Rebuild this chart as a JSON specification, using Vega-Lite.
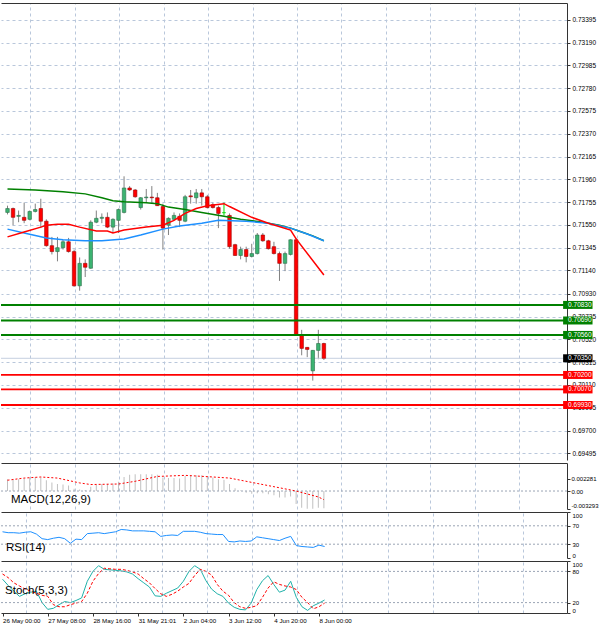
{
  "$schema": "https://vega.github.io/schema/vega-lite/v6.json",
  "padding": {"left": 0, "top": 3, "right": 0, "bottom": 0},
  "background": "white",
  "spacing": 3,
  "bounds": "flush",
  "config": {
    "view": {"stroke": null},
    "font": "Liberation Sans",
    "axis": {
      "labelFont": "Liberation Sans", "labelFontSize": 6.5, "labelColor": "#000000",
      "tickColor": "#333333", "domainColor": "#333333", "tickSize": 3, "labelPadding": 2,
      "gridColor": "#b9c7db", "gridDash": [3, 3], "gridWidth": 1, "labelOverlap": false
    }
  },
  "datasets": {
    "candles": [
      {"i":0,"o":0.71662,"h":0.71723,"l":0.71644,"c":0.71697},
      {"i":1,"o":0.71697,"h":0.71706,"l":0.71547,"c":0.71618},
      {"i":2,"o":0.71627,"h":0.71679,"l":0.71574,"c":0.71635},
      {"i":3,"o":0.71618,"h":0.71750,"l":0.71565,"c":0.71591},
      {"i":4,"o":0.71600,"h":0.71679,"l":0.71591,"c":0.71671},
      {"i":5,"o":0.71671,"h":0.71741,"l":0.71662,"c":0.71688},
      {"i":6,"o":0.71697,"h":0.71785,"l":0.71521,"c":0.71583},
      {"i":7,"o":0.71583,"h":0.71600,"l":0.71354,"c":0.71363},
      {"i":8,"o":0.71363,"h":0.71442,"l":0.71284,"c":0.71310},
      {"i":9,"o":0.71310,"h":0.71442,"l":0.71222,"c":0.71345},
      {"i":10,"o":0.71345,"h":0.71416,"l":0.71328,"c":0.71398},
      {"i":11,"o":0.71398,"h":0.71433,"l":0.71301,"c":0.71310},
      {"i":12,"o":0.71310,"h":0.71328,"l":0.70993,"c":0.71002},
      {"i":13,"o":0.71002,"h":0.71257,"l":0.70958,"c":0.71204},
      {"i":14,"o":0.71204,"h":0.71240,"l":0.71081,"c":0.71169},
      {"i":15,"o":0.71160,"h":0.71591,"l":0.71155,"c":0.71574},
      {"i":16,"o":0.71574,"h":0.71679,"l":0.71565,"c":0.71609},
      {"i":17,"o":0.71609,"h":0.71653,"l":0.71565,"c":0.71618},
      {"i":18,"o":0.71618,"h":0.71662,"l":0.71521,"c":0.71530},
      {"i":19,"o":0.71530,"h":0.71609,"l":0.71486,"c":0.71600},
      {"i":20,"o":0.71591,"h":0.71697,"l":0.71477,"c":0.71688},
      {"i":21,"o":0.71662,"h":0.71987,"l":0.71653,"c":0.71882},
      {"i":22,"o":0.71882,"h":0.71899,"l":0.71855,"c":0.71864},
      {"i":23,"o":0.71864,"h":0.71873,"l":0.71794,"c":0.71803},
      {"i":24,"o":0.71706,"h":0.71800,"l":0.71688,"c":0.71794},
      {"i":25,"o":0.71794,"h":0.71873,"l":0.71750,"c":0.71800},
      {"i":26,"o":0.71800,"h":0.71899,"l":0.71750,"c":0.71794},
      {"i":27,"o":0.71794,"h":0.71838,"l":0.71720,"c":0.71723},
      {"i":28,"o":0.71715,"h":0.71741,"l":0.71328,"c":0.71521},
      {"i":29,"o":0.71547,"h":0.71618,"l":0.71459,"c":0.71609},
      {"i":30,"o":0.71600,"h":0.71662,"l":0.71591,"c":0.71635},
      {"i":31,"o":0.71627,"h":0.71653,"l":0.71530,"c":0.71591},
      {"i":32,"o":0.71583,"h":0.71820,"l":0.71574,"c":0.71803},
      {"i":33,"o":0.71811,"h":0.71864,"l":0.71741,"c":0.71803},
      {"i":34,"o":0.71794,"h":0.71873,"l":0.71741,"c":0.71838},
      {"i":35,"o":0.71838,"h":0.71873,"l":0.71723,"c":0.71803},
      {"i":36,"o":0.71803,"h":0.71820,"l":0.71697,"c":0.71706},
      {"i":37,"o":0.71732,"h":0.71750,"l":0.71697,"c":0.71706},
      {"i":38,"o":0.71706,"h":0.71723,"l":0.71521,"c":0.71653},
      {"i":39,"o":0.71660,"h":0.71750,"l":0.71635,"c":0.71660},
      {"i":40,"o":0.71635,"h":0.71653,"l":0.71336,"c":0.71354},
      {"i":41,"o":0.71372,"h":0.71380,"l":0.71270,"c":0.71275},
      {"i":42,"o":0.71275,"h":0.71354,"l":0.71240,"c":0.71328},
      {"i":43,"o":0.71328,"h":0.71354,"l":0.71213,"c":0.71266},
      {"i":44,"o":0.71266,"h":0.71380,"l":0.71257,"c":0.71292},
      {"i":45,"o":0.71292,"h":0.71477,"l":0.71284,"c":0.71459},
      {"i":46,"o":0.71459,"h":0.71477,"l":0.71398,"c":0.71407},
      {"i":47,"o":0.71407,"h":0.71416,"l":0.71328,"c":0.71336},
      {"i":48,"o":0.71354,"h":0.71398,"l":0.71284,"c":0.71292},
      {"i":49,"o":0.71292,"h":0.71310,"l":0.71046,"c":0.71204},
      {"i":50,"o":0.71204,"h":0.71310,"l":0.71134,"c":0.71292},
      {"i":51,"o":0.71284,"h":0.71420,"l":0.71275,"c":0.71416},
      {"i":52,"o":0.71416,"h":0.71433,"l":0.70555,"c":0.70562},
      {"i":53,"o":0.70562,"h":0.70606,"l":0.70377,"c":0.70439},
      {"i":54,"o":0.70448,"h":0.70452,"l":0.70360,"c":0.70430},
      {"i":55,"o":0.70237,"h":0.70425,"l":0.70149,"c":0.70421},
      {"i":56,"o":0.70421,"h":0.70606,"l":0.70342,"c":0.70483},
      {"i":57,"o":0.70483,"h":0.70490,"l":0.70335,"c":0.70350}
    ],
    "ma": [
      {"s":"slow","i":0,"v":0.71873},{"s":"slow","i":5,"v":0.71864},{"s":"slow","i":10,"v":0.71847},{"s":"slow","i":14,"v":0.71829},
      {"s":"slow","i":17,"v":0.71794},{"s":"slow","i":19,"v":0.71767},{"s":"slow","i":21,"v":0.71759},{"s":"slow","i":25,"v":0.71750},
      {"s":"slow","i":27,"v":0.71741},{"s":"slow","i":29,"v":0.71710},{"s":"slow","i":32,"v":0.71688},{"s":"slow","i":35,"v":0.71662},
      {"s":"slow","i":39,"v":0.71627},{"s":"slow","i":42,"v":0.71600},{"s":"slow","i":46,"v":0.71574},{"s":"slow","i":49,"v":0.71547},
      {"s":"slow","i":51,"v":0.71521},{"s":"slow","i":53,"v":0.71486},{"s":"slow","i":55,"v":0.71451},{"s":"slow","i":57,"v":0.71407},
      {"s":"mid","i":0,"v":0.71512},{"s":"mid","i":3,"v":0.71477},{"s":"mid","i":7,"v":0.71433},{"s":"mid","i":10,"v":0.71416},
      {"s":"mid","i":14,"v":0.71407},{"s":"mid","i":17,"v":0.71407},{"s":"mid","i":21,"v":0.71424},{"s":"mid","i":24,"v":0.71459},
      {"s":"mid","i":28,"v":0.71512},{"s":"mid","i":31,"v":0.71539},{"s":"mid","i":35,"v":0.71565},{"s":"mid","i":38,"v":0.71591},
      {"s":"mid","i":43,"v":0.71583},{"s":"mid","i":47,"v":0.71565},{"s":"mid","i":51,"v":0.71521},{"s":"mid","i":54,"v":0.71468},
      {"s":"mid","i":57,"v":0.71407},
      {"s":"fast","i":0,"v":0.71442},{"s":"fast","i":3,"v":0.71486},{"s":"fast","i":6,"v":0.71530},{"s":"fast","i":7,"v":0.71547},
      {"s":"fast","i":9,"v":0.71556},{"s":"fast","i":11,"v":0.71556},{"s":"fast","i":13,"v":0.71530},{"s":"fast","i":16,"v":0.71495},
      {"s":"fast","i":18,"v":0.71495},{"s":"fast","i":19,"v":0.71477},{"s":"fast","i":21,"v":0.71503},{"s":"fast","i":25,"v":0.71530},
      {"s":"fast","i":28,"v":0.71547},{"s":"fast","i":30,"v":0.71591},{"s":"fast","i":32,"v":0.71653},{"s":"fast","i":34,"v":0.71697},
      {"s":"fast","i":36,"v":0.71723},{"s":"fast","i":39,"v":0.71741},{"s":"fast","i":40,"v":0.71715},{"s":"fast","i":44,"v":0.71618},
      {"s":"fast","i":47,"v":0.71565},{"s":"fast","i":51,"v":0.71503},{"s":"fast","i":52,"v":0.71424},{"s":"fast","i":57,"v":0.71099}
    ],
    "levels": [
      {"v":0.70830,"kind":"res"},{"v":0.70690,"kind":"res"},{"v":0.70560,"kind":"res"},
      {"v":0.70200,"kind":"sup"},{"v":0.70070,"kind":"sup"},{"v":0.69930,"kind":"sup"},
      {"v":0.70350,"kind":"price"}
    ],
    "macd": [
      {"i":0,"m":0.0022},{"i":1,"m":0.0022},{"i":2,"m":0.0022},{"i":3,"m":0.0023},{"i":4,"m":0.0025},{"i":5,"m":0.0026},
      {"i":6,"m":0.0025},{"i":7,"m":0.0020},{"i":8,"m":0.0016},{"i":9,"m":0.0013},{"i":10,"m":0.0012},{"i":11,"m":0.0010},
      {"i":12,"m":0.0004},{"i":13,"m":0.0003},{"i":14,"m":0.0002},{"i":15,"m":0.0008},{"i":16,"m":0.0011},{"i":17,"m":0.0013},
      {"i":18,"m":0.0013},{"i":19,"m":0.0014},{"i":20,"m":0.0017},{"i":21,"m":0.0026},{"i":22,"m":0.0030},{"i":23,"m":0.0031},
      {"i":24,"m":0.0031},{"i":25,"m":0.0031},{"i":26,"m":0.0031},{"i":27,"m":0.0030},{"i":28,"m":0.0025},{"i":29,"m":0.0024},
      {"i":30,"m":0.0024},{"i":31,"m":0.0023},{"i":32,"m":0.0028},{"i":33,"m":0.0029},{"i":34,"m":0.0029},{"i":35,"m":0.0029},
      {"i":36,"m":0.0027},{"i":37,"m":0.0025},{"i":38,"m":0.0022},{"i":39,"m":0.0021},{"i":40,"m":0.0013},{"i":41,"m":0.0005},
      {"i":42,"m":0.0001},{"i":43,"m":-0.0003},{"i":44,"m":-0.0005},{"i":45,"m":-0.0004},{"i":46,"m":-0.0004},{"i":47,"m":-0.0006},
      {"i":48,"m":-0.0008},{"i":49,"m":-0.0012},{"i":50,"m":-0.0012},{"i":51,"m":-0.0010},{"i":52,"m":-0.0024},{"i":53,"m":-0.0031},
      {"i":54,"m":-0.0033},{"i":55,"m":-0.0033},{"i":56,"m":-0.0031},{"i":57,"m":-0.0032}
    ],
    "sig": [
      {"i":0,"s":0.0020},{"i":3,"s":0.0024},{"i":6,"s":0.0026},{"i":9,"s":0.0024},{"i":13,"s":0.0015},{"i":15,"s":0.0012},
      {"i":20,"s":0.0013},{"i":23,"s":0.0018},{"i":27,"s":0.0027},{"i":32,"s":0.0029},{"i":37,"s":0.0026},{"i":40,"s":0.0024},
      {"i":44,"s":0.0016},{"i":48,"s":0.0008},{"i":52,"s":0.0000},{"i":56,"s":-0.0011},{"i":57,"s":-0.0016}
    ],
    "rsi": [
      {"i":0,"r":57},{"i":1,"r":55},{"i":2,"r":55},{"i":3,"r":54},{"i":4,"r":56},{"i":5,"r":57},{"i":6,"r":52},{"i":7,"r":42},
      {"i":8,"r":40},{"i":9,"r":43},{"i":10,"r":45},{"i":11,"r":42},{"i":12,"r":32},{"i":13,"r":41},{"i":14,"r":40},{"i":15,"r":53},
      {"i":16,"r":54},{"i":17,"r":55},{"i":18,"r":53},{"i":19,"r":55},{"i":20,"r":57},{"i":21,"r":62},{"i":22,"r":61},{"i":23,"r":59},
      {"i":24,"r":59},{"i":25,"r":59},{"i":26,"r":58},{"i":27,"r":57},{"i":28,"r":47},{"i":29,"r":49},{"i":30,"r":50},{"i":31,"r":49},
      {"i":32,"r":58},{"i":33,"r":58},{"i":34,"r":58},{"i":35,"r":56},{"i":36,"r":53},{"i":37,"r":52},{"i":38,"r":51},{"i":39,"r":51},
      {"i":40,"r":36},{"i":41,"r":35},{"i":42,"r":37},{"i":43,"r":36},{"i":44,"r":37},{"i":45,"r":46},{"i":46,"r":44},{"i":47,"r":42},
      {"i":48,"r":40},{"i":49,"r":38},{"i":50,"r":43},{"i":51,"r":47},{"i":52,"r":27},{"i":53,"r":25},{"i":54,"r":24},{"i":55,"r":23},
      {"i":56,"r":28},{"i":57,"r":25}
    ],
    "stoch": [
      {"i":0,"k":65,"d":75},{"i":1,"k":53,"d":68},{"i":2,"k":42,"d":58},{"i":3,"k":32,"d":52},{"i":4,"k":37,"d":46},{"i":5,"k":40,"d":42},
      {"i":6,"k":42,"d":38},{"i":7,"k":20,"d":34},{"i":8,"k":7,"d":32},{"i":9,"k":9,"d":16},{"i":10,"k":16,"d":12},{"i":11,"k":22,"d":12},
      {"i":12,"k":20,"d":16},{"i":13,"k":24,"d":19},{"i":14,"k":29,"d":22},{"i":15,"k":61,"d":38},{"i":16,"k":80,"d":61},{"i":17,"k":91,"d":76},
      {"i":18,"k":84,"d":86},{"i":19,"k":83,"d":85},{"i":20,"k":82,"d":84},{"i":21,"k":81,"d":84},{"i":22,"k":79,"d":82},{"i":23,"k":75,"d":79},
      {"i":24,"k":66,"d":75},{"i":25,"k":58,"d":66},{"i":26,"k":50,"d":58},{"i":27,"k":33,"d":47},{"i":28,"k":32,"d":37},{"i":29,"k":38,"d":32},
      {"i":30,"k":43,"d":36},{"i":31,"k":48,"d":42},{"i":32,"k":61,"d":50},{"i":33,"k":80,"d":57},{"i":34,"k":91,"d":72},{"i":35,"k":84,"d":84},
      {"i":36,"k":62,"d":80},{"i":37,"k":46,"d":73},{"i":38,"k":37,"d":55},{"i":39,"k":32,"d":42},{"i":40,"k":19,"d":34},{"i":41,"k":11,"d":20},
      {"i":42,"k":7,"d":12},{"i":43,"k":6,"d":9},{"i":44,"k":19,"d":11},{"i":45,"k":45,"d":14},{"i":46,"k":62,"d":30},{"i":47,"k":72,"d":48},
      {"i":48,"k":55,"d":60},{"i":49,"k":40,"d":55},{"i":50,"k":44,"d":52},{"i":51,"k":61,"d":50},{"i":52,"k":30,"d":45},{"i":53,"k":12,"d":30},
      {"i":54,"k":5,"d":20},{"i":55,"k":14,"d":8},{"i":56,"k":19,"d":12},{"i":57,"k":25,"d":19}
    ]
  },
  "vconcat": [
    {
      "width": 566, "height": 457,
      "layer": [
        {
          "data": {"name": "candles"},
          "mark": {"type": "rule", "strokeWidth": 1},
          "encoding": {
            "x": {"field": "i", "type": "quantitative", "scale": {"domain": [-0.27, 99.9], "nice": false},
              "axis": {"orient": "top", "values": [4.14, 12.14, 20.14, 28.14, 36.14, 44.14, 52.14, 60.14, 68.14, 76.14, 84.14, 92.14], "tickCount": 40, "grid": true, "labels": false, "ticks": false, "domain": true, "title": null, "zindex": 0}},
            "y": {"field": "l", "type": "quantitative", "scale": {"domain": [0.6948, 0.73501], "nice": false, "zero": false},
              "axis": {"orient": "right", "values": [0.73395, 0.73190, 0.72985, 0.72780, 0.72575, 0.72370, 0.72165, 0.71960, 0.71755, 0.71550, 0.71345, 0.71140, 0.70930, 0.70725, 0.70520, 0.70315, 0.70110, 0.69905, 0.69700, 0.69495],
                "tickCount": 40, "labelExpr": "format(datum.value, '.5f')", "grid": true, "labelFlush": false, "labelOverlap": false, "labelBound": false, "title": null, "zindex": 0}},
            "y2": {"field": "h"},
            "color": {"condition": {"test": "datum.o == datum.c", "value": "#00dd00"}, "value": "#808080"}
          }
        },
        {
          "data": {"name": "levels"},
          "transform": [{"filter": "datum.kind == 'price'"}],
          "mark": {"type": "rule", "strokeWidth": 1, "color": "#c5cfe0"},
          "encoding": {
            "y": {"field": "v", "type": "quantitative", "scale": {"domain": [0.6948, 0.73501], "nice": false, "zero": false}, "axis": {"title": null}}
          }
        },
        {
          "data": {"name": "candles"},
          "mark": {"type": "bar", "strokeWidth": 0.6},
          "encoding": {
            "x": {"field": "i", "type": "quantitative", "scale": {"domain": [-0.27, 99.9], "nice": false}, "axis": {"title": null}},
            "y": {"field": "o", "type": "quantitative", "scale": {"domain": [0.6948, 0.73501], "nice": false, "zero": false}, "axis": {"title": null}},
            "y2": {"field": "c"},
            "size": {"value": 3.5},
            "fill": {"condition": [{"test": "datum.c > datum.o", "value": "#3cb371"}, {"test": "datum.c < datum.o", "value": "#ff0000"}], "value": "#00dd00"},
            "stroke": {"condition": [{"test": "datum.c > datum.o", "value": "#2b6e4a"}, {"test": "datum.c < datum.o", "value": "#9a0000"}], "value": "#00dd00"}
          }
        },
        {
          "data": {"name": "ma"},
          "transform": [{"filter": "datum.s == 'slow'"}],
          "mark": {"type": "line", "strokeWidth": 1.5, "color": "#008000"},
          "encoding": {
            "x": {"field": "i", "type": "quantitative", "scale": {"domain": [-0.27, 99.9], "nice": false}, "axis": {"title": null}},
            "y": {"field": "v", "type": "quantitative", "scale": {"domain": [0.6948, 0.73501], "nice": false, "zero": false}, "axis": {"title": null}}
          }
        },
        {
          "data": {"name": "ma"},
          "transform": [{"filter": "datum.s == 'mid'"}],
          "mark": {"type": "line", "strokeWidth": 1.5, "color": "#1e90ff"},
          "encoding": {
            "x": {"field": "i", "type": "quantitative", "scale": {"domain": [-0.27, 99.9], "nice": false}, "axis": {"title": null}},
            "y": {"field": "v", "type": "quantitative", "scale": {"domain": [0.6948, 0.73501], "nice": false, "zero": false}, "axis": {"title": null}}
          }
        },
        {
          "data": {"name": "ma"},
          "transform": [{"filter": "datum.s == 'fast'"}],
          "mark": {"type": "line", "strokeWidth": 1.5, "color": "#ff0000"},
          "encoding": {
            "x": {"field": "i", "type": "quantitative", "scale": {"domain": [-0.27, 99.9], "nice": false}, "axis": {"title": null}},
            "y": {"field": "v", "type": "quantitative", "scale": {"domain": [0.6948, 0.73501], "nice": false, "zero": false}, "axis": {"title": null}}
          }
        },
        {
          "data": {"name": "levels"},
          "transform": [{"filter": "datum.kind != 'price'"}],
          "mark": {"type": "rule"},
          "encoding": {
            "y": {"field": "v", "type": "quantitative", "scale": {"domain": [0.6948, 0.73501], "nice": false, "zero": false}, "axis": {"title": null}},
            "color": {"condition": {"test": "datum.kind == 'res'", "value": "#008000"}, "value": "#ff0000"},
            "strokeWidth": {"condition": {"test": "datum.kind == 'res'", "value": 2}, "value": 1.8}
          }
        },
        {
          "data": {"name": "levels"},
          "mark": {"type": "bar"},
          "encoding": {
            "x": {"datum": 100.1, "type": "quantitative", "scale": {"domain": [-0.27, 99.9], "nice": false}, "axis": {"title": null}},
            "x2": {"datum": 105.4},
            "y": {"field": "v", "type": "quantitative", "scale": {"domain": [0.6948, 0.73501], "nice": false, "zero": false}, "axis": {"title": null}},
            "size": {"value": 8},
            "color": {"condition": [{"test": "datum.kind == 'res'", "value": "#008000"}, {"test": "datum.kind == 'sup'", "value": "#ff0000"}], "value": "#000000"}
          }
        },
        {
          "data": {"name": "levels"},
          "mark": {"type": "text", "align": "left", "baseline": "middle", "fontSize": 6.5, "color": "#ffffff", "font": "Liberation Sans"},
          "encoding": {
            "x": {"datum": 101.0, "type": "quantitative", "scale": {"domain": [-0.27, 99.9], "nice": false}, "axis": {"title": null}},
            "y": {"field": "v", "type": "quantitative", "scale": {"domain": [0.6948, 0.73501], "nice": false, "zero": false}, "axis": {"title": null}},
            "text": {"field": "v", "type": "quantitative", "format": ".5f"}
          }
        }
      ]
    },
    {
      "width": 566, "height": 46,
      "layer": [
        {
          "data": {"name": "macd"},
          "mark": {"type": "bar", "color": "#c0c0c0"},
          "encoding": {
            "x": {"field": "i", "type": "quantitative", "scale": {"domain": [-0.27, 99.9], "nice": false},
              "axis": {"orient": "top", "values": [4.14, 12.14, 20.14, 28.14, 36.14, 44.14, 52.14, 60.14, 68.14, 76.14, 84.14, 92.14], "tickCount": 40, "grid": true, "labels": false, "ticks": false, "domain": true, "title": null}},
            "y": {"field": "m", "type": "quantitative", "scale": {"domain": [-0.00333, 0.00519], "nice": false, "zero": false},
              "axis": {"orient": "right", "values": [0.002281, 0, -0.003293], "tickCount": 40, "grid": false, "labelFlush": 3, "labelOverlap": false, "labelBound": false, "labelPadding": 1, "labelFontSize": 6, "title": null,
                "labelExpr": "datum.value > 0.001 ? '0.002281' : (datum.value < -0.001 ? '-0.003293' : '0.00')"}},
            "y2": {"datum": 0},
            "size": {"value": 1}
          }
        },
        {
          "data": {"values": [{"z": 0}]},
          "mark": {"type": "rule", "color": "#9aa4b4", "strokeDash": [2, 2], "strokeWidth": 1},
          "encoding": {
            "y": {"field": "z", "type": "quantitative", "scale": {"domain": [-0.00333, 0.00519], "nice": false, "zero": false}, "axis": {"title": null}}
          }
        },
        {
          "data": {"name": "sig"},
          "mark": {"type": "line", "color": "#ff0000", "strokeDash": [2, 2], "strokeWidth": 1},
          "encoding": {
            "x": {"field": "i", "type": "quantitative", "scale": {"domain": [-0.27, 99.9], "nice": false}, "axis": {"title": null}},
            "y": {"field": "s", "type": "quantitative", "scale": {"domain": [-0.00333, 0.00519], "nice": false, "zero": false}, "axis": {"title": null}}
          }
        },
        {
          "data": {"values": [{"label": "MACD(12,26,9)", "px": 0.62, "py": -0.0016}]},
          "mark": {"type": "text", "align": "left", "baseline": "middle", "fontSize": 11.5, "color": "#000000", "font": "Liberation Sans"},
          "encoding": {
            "x": {"field": "px", "type": "quantitative", "scale": {"domain": [-0.27, 99.9], "nice": false}, "axis": {"title": null}},
            "y": {"field": "py", "type": "quantitative", "scale": {"domain": [-0.00333, 0.00519], "nice": false, "zero": false}, "axis": {"title": null}},
            "text": {"field": "label"}
          }
        }
      ]
    },
    {
      "width": 566, "height": 46,
      "layer": [
        {
          "data": {"name": "rsi"},
          "mark": {"type": "line", "color": "#1e90ff", "strokeWidth": 1},
          "encoding": {
            "x": {"field": "i", "type": "quantitative", "scale": {"domain": [-0.27, 99.9], "nice": false},
              "axis": {"orient": "top", "values": [4.14, 12.14, 20.14, 28.14, 36.14, 44.14, 52.14, 60.14, 68.14, 76.14, 84.14, 92.14], "tickCount": 40, "grid": true, "labels": false, "ticks": false, "domain": true, "title": null}},
            "y": {"field": "r", "type": "quantitative", "scale": {"domain": [0, 100], "nice": false},
              "axis": {"orient": "right", "values": [100, 70, 30, 0], "tickCount": 40, "grid": false, "labelFlush": 3, "labelOverlap": false, "labelBound": false, "labelFontSize": 6, "title": null}}
          }
        },
        {
          "data": {"values": [{"lv": 70}, {"lv": 30}]},
          "mark": {"type": "rule", "color": "#9aa4b4", "strokeDash": [2, 2], "strokeWidth": 1},
          "encoding": {
            "y": {"field": "lv", "type": "quantitative", "scale": {"domain": [0, 100], "nice": false}, "axis": {"title": null}}
          }
        },
        {
          "data": {"values": [{"label": "RSI(14)", "px": 0.62, "py": 21}]},
          "mark": {"type": "text", "align": "left", "baseline": "middle", "fontSize": 11.5, "color": "#000000", "font": "Liberation Sans"},
          "encoding": {
            "x": {"field": "px", "type": "quantitative", "scale": {"domain": [-0.27, 99.9], "nice": false}, "axis": {"title": null}},
            "y": {"field": "py", "type": "quantitative", "scale": {"domain": [0, 100], "nice": false}, "axis": {"title": null}},
            "text": {"field": "label"}
          }
        }
      ]
    },
    {
      "width": 566, "height": 52,
      "resolve": {"axis": {"x": "independent"}},
      "layer": [
        {
          "data": {"name": "stoch"},
          "mark": {"type": "line", "color": "#20b2aa", "strokeWidth": 1},
          "encoding": {
            "x": {"field": "i", "type": "quantitative", "scale": {"domain": [-0.27, 99.9], "nice": false},
              "axis": {"orient": "top", "values": [4.14, 12.14, 20.14, 28.14, 36.14, 44.14, 52.14, 60.14, 68.14, 76.14, 84.14, 92.14], "tickCount": 40, "grid": true, "labels": false, "ticks": false, "domain": true, "title": null}},
            "y": {"field": "k", "type": "quantitative", "scale": {"domain": [0, 100], "nice": false},
              "axis": {"orient": "right", "values": [100, 80, 20, 0], "tickCount": 40, "grid": false, "labelFlush": 3, "labelOverlap": false, "labelBound": false, "labelFontSize": 6, "title": null}}
          }
        },
        {
          "data": {"name": "stoch"},
          "mark": {"type": "line", "color": "#ff0000", "strokeDash": [3, 2], "strokeWidth": 1},
          "encoding": {
            "x": {"field": "i", "type": "quantitative", "scale": {"domain": [-0.27, 99.9], "nice": false},
              "axis": {"orient": "bottom", "values": [0, 8, 16, 24, 32, 40, 48, 56], "tickCount": 40, "grid": false, "labelAlign": "left", "labelFontSize": 6.2, "labelPadding": 1, "tickSize": 3, "domain": true, "title": null, "labelFlush": false, "labelOverlap": false,
                "labelExpr": "['26 May 00:00','27 May 08:00','28 May 16:00','31 May 21:01','2 Jun 04:00','3 Jun 12:00','4 Jun 20:00','8 Jun 00:00'][round(datum.value / 8)]"}},
            "y": {"field": "d", "type": "quantitative", "scale": {"domain": [0, 100], "nice": false}, "axis": {"title": null}}
          }
        },
        {
          "data": {"values": [{"lv": 80}, {"lv": 20}]},
          "mark": {"type": "rule", "color": "#9aa4b4", "strokeDash": [2, 2], "strokeWidth": 1},
          "encoding": {
            "y": {"field": "lv", "type": "quantitative", "scale": {"domain": [0, 100], "nice": false}, "axis": {"title": null}}
          }
        },
        {
          "data": {"values": [{"label": "Stoch(5,3,3)", "px": 0.45, "py": 42}]},
          "mark": {"type": "text", "align": "left", "baseline": "middle", "fontSize": 11.5, "color": "#000000", "font": "Liberation Sans"},
          "encoding": {
            "x": {"field": "px", "type": "quantitative", "scale": {"domain": [-0.27, 99.9], "nice": false}, "axis": null},
            "y": {"field": "py", "type": "quantitative", "scale": {"domain": [0, 100], "nice": false}, "axis": {"title": null}},
            "text": {"field": "label"}
          }
        }
      ]
    }
  ]
}
